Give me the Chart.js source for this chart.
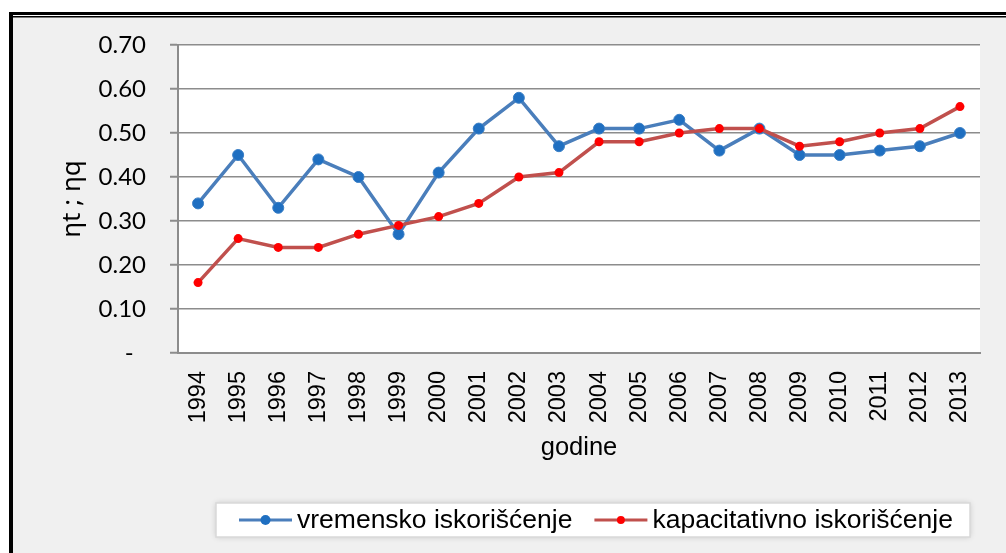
<!DOCTYPE html>
<html>
<head>
<meta charset="utf-8">
<script src="https://cdn.jsdelivr.net/npm/chart.js@4.4.1/dist/chart.umd.min.js"></script>
<style>
  html, body { margin: 0; padding: 0; background: #ffffff; }
  #c { display: block; }
</style>
</head>
<body>
<canvas id="c" width="1006" height="553"></canvas>
<script>
// Years on the category axis
const years = ['1994', '1995', '1996', '1997', '1998', '1999', '2000', '2001', '2002', '2003',
               '2004', '2005', '2006', '2007', '2008', '2009', '2010', '2011', '2012', '2013'];

// Time utilisation (ηt)
const vremensko = [0.34, 0.45, 0.33, 0.44, 0.40, 0.27, 0.41, 0.51, 0.58, 0.47,
                   0.51, 0.51, 0.53, 0.46, 0.51, 0.45, 0.45, 0.46, 0.47, 0.50];

// Capacity utilisation (ηq)
const kapacitativno = [0.16, 0.26, 0.24, 0.24, 0.27, 0.29, 0.31, 0.34, 0.40, 0.41,
                       0.48, 0.48, 0.50, 0.51, 0.51, 0.47, 0.48, 0.50, 0.51, 0.56];

const seriesNames = ['vremensko iskorišćenje', 'kapacitativno iskorišćenje'];
const yTitle = 'ηt ; ηq';
const xTitle = 'godine';
const yMin = 0, yMax = 0.7, yStep = 0.1;

const GRID = '#8c8c8c';
const BLUE_LINE = '#4a7ebb', BLUE_DOT = '#1f6fc1';
const RED_LINE = '#c0504d', RED_DOT = '#ff0000';

// Page frame, grey chart background and white plot area
const framePlugin = {
  id: 'frame',
  beforeDraw(chart) {
    const ctx = chart.ctx;
    const { left, top, right, bottom } = chart.chartArea;
    ctx.save();
    ctx.fillStyle = '#ffffff';
    ctx.fillRect(0, 0, chart.width, chart.height);
    ctx.fillStyle = '#f0f0f0';
    ctx.fillRect(13, 17, chart.width - 13, chart.height - 17);
    ctx.fillStyle = '#000000';
    ctx.fillRect(9, 12, chart.width - 9, 3);
    ctx.fillRect(9, 16, chart.width - 9, 1.5);
    ctx.fillRect(9, 12, 4, chart.height - 12);
    ctx.fillStyle = '#ffffff';
    ctx.fillRect(left, top, right - left, bottom - top);
    ctx.restore();
  }
};

// Boxed legend below the axis title
const legendPlugin = {
  id: 'boxLegend',
  afterDraw(chart) {
    const ctx = chart.ctx;
    const boxL = 216, boxR = 970, boxT = 503, boxB = 537;
    const cy = (boxT + boxB) / 2;
    ctx.save();
    ctx.shadowColor = 'rgba(0,0,0,0.18)';
    ctx.shadowBlur = 6;
    ctx.fillStyle = '#ffffff';
    ctx.fillRect(boxL, boxT, boxR - boxL, boxB - boxT);
    ctx.shadowColor = 'transparent';
    ctx.strokeStyle = '#d9d9d9';
    ctx.lineWidth = 1.5;
    ctx.strokeRect(boxL, boxT, boxR - boxL, boxB - boxT);

    ctx.font = '26.5px "Liberation Sans", Arial, sans-serif';
    ctx.textBaseline = 'middle';
    ctx.textAlign = 'left';
    let x = 239;
    chart.data.datasets.forEach((ds) => {
      const lineW = 53;
      ctx.strokeStyle = ds.borderColor;
      ctx.lineWidth = 3;
      ctx.beginPath();
      ctx.moveTo(x, cy);
      ctx.lineTo(x + lineW, cy);
      ctx.stroke();
      ctx.fillStyle = ds.pointBackgroundColor;
      ctx.beginPath();
      ctx.arc(x + lineW / 2, cy, ds.pointRadius - 0.5, 0, Math.PI * 2);
      ctx.fill();
      ctx.fillStyle = '#000000';
      const tx = x + lineW + 5;
      ctx.fillText(ds.label, tx, cy + 1);
      x = tx + ctx.measureText(ds.label).width + 22;
    });
    ctx.restore();
  }
};

new Chart(document.getElementById('c'), {
  type: 'line',
  data: {
    labels: years,
    datasets: [
      {
        label: seriesNames[0],
        data: vremensko,
        borderColor: BLUE_LINE,
        backgroundColor: BLUE_DOT,
        borderWidth: 3.5,
        pointRadius: 5.5,
        pointBackgroundColor: BLUE_DOT,
        pointBorderColor: '#3a7fc6',
        pointBorderWidth: 1,
        tension: 0,
        order: 1
      },
      {
        label: seriesNames[1],
        data: kapacitativno,
        borderColor: RED_LINE,
        backgroundColor: RED_DOT,
        borderWidth: 3.5,
        pointRadius: 4.5,
        pointBackgroundColor: RED_DOT,
        pointBorderColor: RED_DOT,
        pointBorderWidth: 0,
        tension: 0,
        order: 0
      }
    ]
  },
  options: {
    responsive: false,
    animation: false,
    devicePixelRatio: 1,
    layout: { padding: { left: 13, right: 26, top: 45, bottom: 63 } },
    plugins: {
      legend: { display: false },
      tooltip: { enabled: false }
    },
    scales: {
      x: {
        offset: true,
        grid: { display: false },
        border: { display: true, color: GRID, width: 2 },
        ticks: {
          color: '#000000',
          minRotation: 90,
          maxRotation: 90,
          autoSkip: false,
          padding: 10,
          font: { family: '"Liberation Sans", Arial, sans-serif', size: 23.5 }
        },
        title: {
          display: true,
          text: xTitle,
          color: '#000000',
          font: { family: '"Liberation Sans", Arial, sans-serif', size: 25.5 },
          padding: { top: 0, bottom: 27 }
        },
        afterFit(scale) { scale.height = 137; }
      },
      y: {
        min: yMin,
        max: yMax,
        border: { display: true, color: GRID, width: 2 },
        grid: { color: GRID, lineWidth: 1.5, tickLength: 8, tickColor: GRID, tickWidth: 2 },
        ticks: {
          stepSize: yStep,
          color: '#000000',
          padding: 24,
          font: { family: 'Lato, "Open Sans", sans-serif', size: 24 },
          callback(v) { return Math.abs(v) < 1e-9 ? '-  ' : Number(v).toFixed(2); }
        },
        title: {
          display: true,
          text: yTitle,
          color: '#000000',
          font: { family: '"Noto Sans", "Open Sans", sans-serif', size: 26 },
          padding: { top: 44, bottom: 0 }
        },
        afterFit(scale) { scale.width = 165; }
      }
    }
  },
  plugins: [framePlugin, legendPlugin]
});
</script>
</body>
</html>
